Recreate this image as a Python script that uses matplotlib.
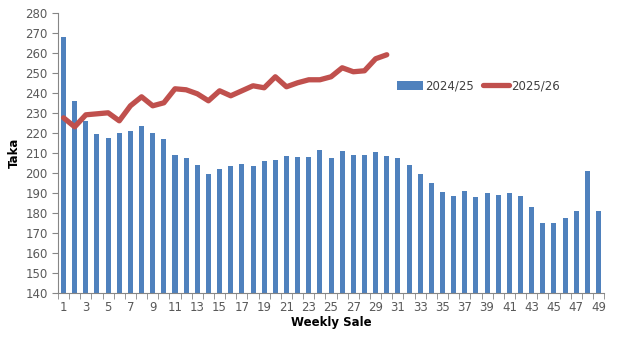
import matplotlib.pyplot as plt
import numpy as np

# weekly sale numbers
weeks = list(range(1, 50))
price_2425 = [268, 236, 226, 219.5, 217.5, 220, 221, 223.5, 220, 217,
              209, 207.5, 204, 199.5, 202, 203.5, 204.5, 203.5, 206, 206.5,
              208.5, 208, 208, 211.5, 207.5, 211, 209, 209, 210.5, 208.5,
              207.5, 204, 199.5, 195, 190.5, 188.5, 191, 188, 190, 189,
              190, 188.5, 183, 175, 175, 177.5, 181, 201, 181]
price_2526 = [227.5, 223, 229, 229.5, 230, 226, 233.5, 238, 233.5, 235,
              242, 241.5, 239.5, 236, 241, 238.5, 241, 243.5, 242.5, 248,
              243, 245, 246.5, 246.5, 248, 252.5, 250.5, 251, 257, 259]
tick_labels = [str(w) for w in weeks if w % 2 == 1]

gray = '#595959'
fig = plt.figure(figsize=(6.42, 3.53), dpi=100)
ax = fig.add_axes([0.0903, 0.170, 0.8507, 0.794])

bars = ax.bar(weeks, [v - 140 for v in price_2425], bottom=140, width=0.45,
              color='#4F81BD', label='2024/25', zorder=2)
line, = ax.plot(weeks[:len(price_2526)], price_2526, color='#C0504D', lw=3.8,
                solid_capstyle='round', solid_joinstyle='round', label='2025/26', zorder=3)

ax.set_xlim(0.5, 49.5)
ax.set_ylim(140, 280)
ax.set_yticks(np.arange(140, 281, 10))
ax.set_xticks([w for w in weeks if w % 2 == 1])
ax.set_xticklabels(tick_labels)
ax.set_xticks(np.arange(0.5, 50, 1), minor=True)
ax.tick_params(axis='x', which='major', length=0, pad=6, labelsize=8.5, labelcolor=gray)
ax.tick_params(axis='x', which='minor', length=4, color='#868686', direction='out')
ax.tick_params(axis='y', length=4, color='#868686', labelsize=8.5, labelcolor=gray)

for s in ['top', 'right']:
    ax.spines[s].set_visible(False)
for s in ['left', 'bottom']:
    ax.spines[s].set_color('#868686')

ax.set_ylabel('Taka', fontsize=8.5, fontweight='bold', labelpad=3)
ax.set_xlabel('Weekly Sale', fontsize=8.5, fontweight='bold', labelpad=1)

fig.legend([bars, line], ['2024/25', '2025/26'], loc='center left',
           bbox_to_anchor=(386 / 642, 1 - 86 / 353), ncol=2,
           frameon=False, fontsize=8.5, handlelength=2.2, handletextpad=0.2,
           columnspacing=0.8, labelcolor='#404040')

fig.savefig('out.png', dpi=100)
